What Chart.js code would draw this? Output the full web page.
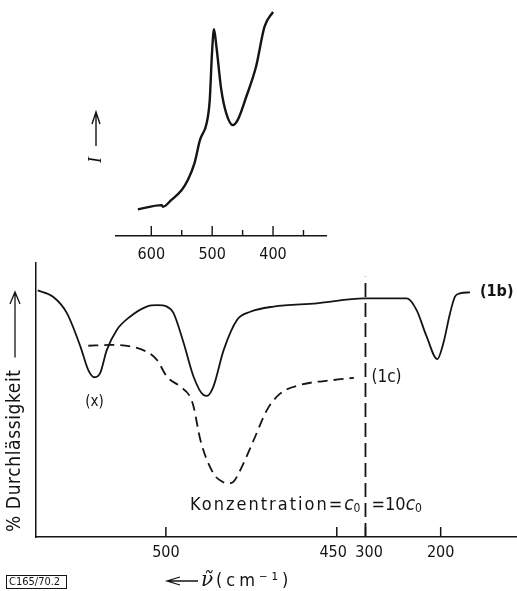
<!DOCTYPE html>
<html>
<head>
<meta charset="utf-8">
<script src="https://cdn.jsdelivr.net/npm/chart.js@4.4.1/dist/chart.umd.min.js"></script>
<style>
  body { margin: 0; background: #fff; }
  #wrap { position: relative; width: 517px; height: 591px; }
  canvas { position: absolute; left: 0; top: 0; }
</style>
</head>
<body>
<div id="wrap">
  <canvas id="mainChart" width="517" height="591"></canvas>
  <canvas id="insetChart" width="517" height="262"></canvas>
</div>
<script>
// inset spectrum: wavenumber (cm-1) vs intensity (arb. units)
const insetWave = [622, 583, 581, 567, 550, 540, 529, 520, 509, 504, 500.3, 497, 493, 485, 477, 466, 458, 444, 428, 414, 400];
const insetInt = [11.3, 13.1, 12.4, 15.3, 19.5, 23.7, 30.9, 40.7, 47.9, 57.6, 77.5, 87.6, 80.2, 61.9, 52.1, 47.0, 49.2, 59.0, 71.7, 88.7, 95.0];
const insetTicks = [600, 550, 500, 450, 400, 350];
const insetTickLabels = ['600', '', '500', '', '400', ''];

// (1b) solid curve, % transmission
const waveB = [537.5, 533, 529, 525, 522.7, 520.9, 519.2, 517.3, 514.4, 510.5, 505.6, 502.5, 499.7, 497.8, 494.8, 491.9, 489, 488, 486.1, 483.1, 479.2, 475.3, 468.5, 455.8, 442,
               267, 245, 232, 218.6, 204.5, 196.5, 187.6, 181, 174.3, 161];
const transB = [90, 87.7, 81.8, 69.5, 60.9, 58.3, 59.9, 68.2, 75.5, 80.4, 84.1, 84.6, 84.1, 81.8, 70.8, 58.5, 51.8, 51.5, 54.9, 68.2, 79.2, 82.2, 84.1, 85.3, 87.1,
                87.1, 87.1, 82.8, 73.1, 64.9, 70.7, 81.6, 87.7, 88.9, 89.3];

// (1c) dashed curve, % transmission
const waveC = [522.7, 516.3, 505.6, 502.6, 499.7, 495.8, 492.9, 491.9, 489.9, 486.1, 483.5, 481.7, 480.2, 478.2, 474.3, 470.4, 466.5, 460.7, 450.9, 445];
const transC = [69.8, 70.1, 67.6, 64.6, 58.5, 54.9, 51.2, 47.6, 35.4, 23.2, 20.2, 19.6, 20.2, 24.5, 35.4, 46.4, 52.4, 55.5, 57.3, 58.1];

const tickWaves = [500, 450, 300, 200];
const tickLabels = ['500', '450\u2002', '\u2002300', '200'];
const breakWave = 300;

// broken wavenumber axis: 538..441.6 on the left part, 300..98.5 on the right part
const LEFT_MAX = 538, LEFT_MIN = 441.6, RIGHT_MAX = 300, RIGHT_MIN = 98.5, SPLIT = 0.685;

class BrokenWaveScale extends Chart.LinearScale {
  static id = 'brokenWave';
  static defaults = Chart.LinearScale.defaults;
  frac(v) {
    if (v >= LEFT_MIN) return (LEFT_MAX - v) / (LEFT_MAX - LEFT_MIN) * SPLIT;
    if (v <= RIGHT_MAX) return SPLIT + (RIGHT_MAX - v) / (RIGHT_MAX - RIGHT_MIN) * (1 - SPLIT);
    return SPLIT;
  }
  getPixelForValue(v) {
    return this.left + this.width * this.frac(v);
  }
  getValueForPixel(p) {
    const f = (p - this.left) / this.width;
    if (f <= SPLIT) return LEFT_MAX - f / SPLIT * (LEFT_MAX - LEFT_MIN);
    return RIGHT_MAX - (f - SPLIT) / (1 - SPLIT) * (RIGHT_MAX - RIGHT_MIN);
  }
}
Chart.register(BrokenWaveScale);

const NARROW = "'Liberation Sans Narrow', 'DejaVu Sans Condensed', sans-serif";
const INK = '#141414';

function toPoints(xs, ys) {
  return xs.map((x, i) => ({ x: x, y: ys[i] }));
}

// draws a list of text pieces one after another, starting at x (or ending at x)
function drawParts(ctx, x, y, parts, align) {
  let total = 0;
  for (const p of parts) {
    ctx.font = p.font;
    ctx.letterSpacing = p.sp || '0px';
    total += ctx.measureText(p.t).width;
  }
  let cx = align === 'right' ? x - total : x;
  ctx.textAlign = 'left';
  ctx.textBaseline = 'alphabetic';
  for (const p of parts) {
    ctx.font = p.font;
    ctx.letterSpacing = p.sp || '0px';
    ctx.fillText(p.t, cx, y + (p.dy || 0));
    cx += ctx.measureText(p.t).width;
  }
  ctx.letterSpacing = '0px';
}

const mainDecor = {
  id: 'mainDecor',
  afterDraw(chart) {
    const ctx = chart.ctx;
    const xs = chart.scales.x, ys = chart.scales.y;
    ctx.save();
    ctx.strokeStyle = INK;
    ctx.fillStyle = INK;
    ctx.lineWidth = 1.5;

    // tick marks pointing into the plot
    for (const v of tickWaves) {
      const px = xs.getPixelForValue(v);
      ctx.beginPath();
      ctx.moveTo(px, ys.bottom);
      ctx.lineTo(px, ys.bottom - 10);
      ctx.stroke();
    }

    // curve labels
    const endB = waveB.length - 1;
    ctx.font = 'bold 16px ' + NARROW;
    ctx.textAlign = 'left';
    ctx.textBaseline = 'middle';
    ctx.fillText('(1b)', xs.getPixelForValue(waveB[endB]) + 10, ys.getPixelForValue(transB[endB]));
    ctx.font = '17px ' + NARROW;
    ctx.fillText('(1c)', xs.getPixelForValue(breakWave) + 6, ys.getPixelForValue(transC[transC.length - 1]));
    ctx.font = '15px ' + NARROW;
    ctx.textAlign = 'center';
    ctx.fillText('(x)', xs.getPixelForValue(520.9), ys.getPixelForValue(58.3) + 25);

    // concentration labels either side of the break
    const bx = xs.getPixelForValue(breakWave);
    const by = ys.getPixelForValue(10);
    drawParts(ctx, bx - 5, by, [
      { t: 'Konzentration=', font: '18px ' + NARROW, sp: '2px' },
      { t: 'c', font: 'italic 19px ' + NARROW },
      { t: '0', font: '12px ' + NARROW, dy: 2 }
    ], 'right');
    drawParts(ctx, bx + 6, by, [
      { t: '=10', font: '18px ' + NARROW },
      { t: 'c', font: 'italic 19px ' + NARROW },
      { t: '0', font: '12px ' + NARROW, dy: 2 }
    ], 'left');

    // y axis title with arrow
    ctx.save();
    ctx.translate(15, ys.bottom - 5);
    ctx.rotate(-Math.PI / 2);
    ctx.font = '19px ' + NARROW;
    ctx.textAlign = 'left';
    ctx.textBaseline = 'middle';
    ctx.letterSpacing = '0.6px';
    ctx.fillText('% Durchlässigkeit', 0, 0);
    const tw = ctx.measureText('% Durchlässigkeit').width;
    ctx.letterSpacing = '0px';
    const tip = ys.bottom - 5 - (ys.top + 29);
    ctx.lineWidth = 1.3;
    ctx.beginPath();
    ctx.moveTo(tw + 12, 0);
    ctx.lineTo(tip, 0);
    ctx.moveTo(tip - 12, -5);
    ctx.lineTo(tip, 0);
    ctx.lineTo(tip - 12, 5);
    ctx.stroke();
    ctx.restore();

    // x axis title with arrow
    const ty = 581;
    ctx.lineWidth = 1.3;
    ctx.beginPath();
    ctx.moveTo(198, ty);
    ctx.lineTo(167, ty);
    ctx.moveTo(180, ty - 4);
    ctx.lineTo(167, ty);
    ctx.lineTo(180, ty + 4);
    ctx.stroke();
    ctx.textBaseline = 'middle';
    ctx.textAlign = 'left';
    ctx.font = 'italic 20px "DejaVu Serif", serif';
    ctx.fillText('\u03bd\u0303', 201, ty);
    ctx.font = '18px ' + NARROW;
    ctx.letterSpacing = '4px';
    ctx.fillText('(cm\u207b\u00b9)', 216, ty);
    ctx.letterSpacing = '0px';

    // figure code in a box
    ctx.font = '11px ' + NARROW;
    ctx.fillText('C165/70.2', 9, 582);
    ctx.lineWidth = 1;
    ctx.strokeRect(6.5, 575.5, 60, 13);

    ctx.restore();
  }
};

const insetDecor = {
  id: 'insetDecor',
  afterDraw(chart) {
    const ctx = chart.ctx;
    const xs = chart.scales.x, ys = chart.scales.y;
    ctx.save();
    ctx.strokeStyle = INK;
    ctx.fillStyle = INK;
    ctx.lineWidth = 1.4;
    insetTicks.forEach((v, i) => {
      const px = xs.getPixelForValue(v);
      ctx.beginPath();
      ctx.moveTo(px, ys.bottom);
      ctx.lineTo(px, ys.bottom - (insetTickLabels[i] ? 10 : 6));
      ctx.stroke();
    });

    // intensity arrow and symbol
    const ax = chart.chartArea.left - 20;
    ctx.beginPath();
    ctx.moveTo(ax, 146);
    ctx.lineTo(ax, 112);
    ctx.moveTo(ax - 4, 124);
    ctx.lineTo(ax, 112);
    ctx.lineTo(ax + 4, 124);
    ctx.stroke();
    ctx.save();
    ctx.translate(ax, 160);
    ctx.rotate(-Math.PI / 2);
    ctx.font = 'italic 18px "Liberation Serif", serif';
    ctx.textAlign = 'center';
    ctx.textBaseline = 'middle';
    ctx.fillText('I', 0, 0);
    ctx.restore();
    ctx.restore();
  }
};

new Chart(document.getElementById('mainChart'), {
  type: 'line',
  data: {
    datasets: [
      {
        label: '(1b)',
        data: toPoints(waveB, transB),
        borderColor: INK,
        borderWidth: 1.8,
        pointRadius: 0,
        cubicInterpolationMode: 'monotone'
      },
      {
        label: '(1c)',
        data: toPoints(waveC, transC),
        borderColor: INK,
        borderWidth: 1.8,
        borderDash: [10, 6],
        pointRadius: 0,
        cubicInterpolationMode: 'monotone'
      },
      {
        label: 'break',
        data: [{ x: breakWave, y: 0 }, { x: breakWave, y: 95 }],
        borderColor: INK,
        borderWidth: 1.8,
        borderDash: [14, 6],
        pointRadius: 0
      }
    ]
  },
  options: {
    responsive: false,
    animation: false,
    layout: { padding: { left: 36, top: 263, right: 0, bottom: 0 } },
    plugins: { legend: { display: false }, tooltip: { enabled: false } },
    scales: {
      x: {
        type: 'brokenWave',
        min: RIGHT_MIN,
        max: LEFT_MAX,
        afterFit: s => { s.height = 54; },
        afterBuildTicks: s => { s.ticks = tickWaves.map(v => ({ value: v })); },
        grid: { display: false, drawTicks: false },
        border: { display: true, color: INK, width: 1.5 },
        ticks: {
          autoSkip: false,
          maxRotation: 0,
          padding: 6,
          color: INK,
          font: { family: NARROW, size: 16 },
          callback: (v, i) => tickLabels[i]
        }
      },
      y: {
        type: 'linear',
        min: 0,
        max: 100,
        afterFit: s => { s.width = 0; },
        grid: { display: false, drawTicks: false },
        border: { display: true, color: INK, width: 1.5 },
        ticks: { display: false }
      }
    }
  },
  plugins: [mainDecor]
});

new Chart(document.getElementById('insetChart'), {
  type: 'line',
  data: {
    datasets: [{
      label: 'I',
      data: toPoints(insetWave, insetInt),
      borderColor: INK,
      borderWidth: 2.4,
      pointRadius: 0,
      cubicInterpolationMode: 'monotone'
    }]
  },
  options: {
    responsive: false,
    animation: false,
    layout: { padding: { left: 116, top: 0, right: 191, bottom: 0 } },
    plugins: { legend: { display: false }, tooltip: { enabled: false } },
    scales: {
      x: {
        type: 'linear',
        reverse: true,
        min: 313,
        max: 658,
        afterFit: s => { s.height = 26; },
        afterBuildTicks: s => { s.ticks = insetTicks.map(v => ({ value: v })); },
        grid: { display: false, drawTicks: false },
        border: { display: true, color: INK, width: 1.4 },
        ticks: {
          autoSkip: false,
          maxRotation: 0,
          padding: 9,
          color: INK,
          font: { family: NARROW, size: 16 },
          callback: (v, i) => insetTickLabels[i]
        }
      },
      y: {
        type: 'linear',
        min: 0,
        max: 100,
        display: false,
        afterFit: s => { s.width = 0; }
      }
    }
  },
  plugins: [insetDecor]
});
</script>
</body>
</html>
